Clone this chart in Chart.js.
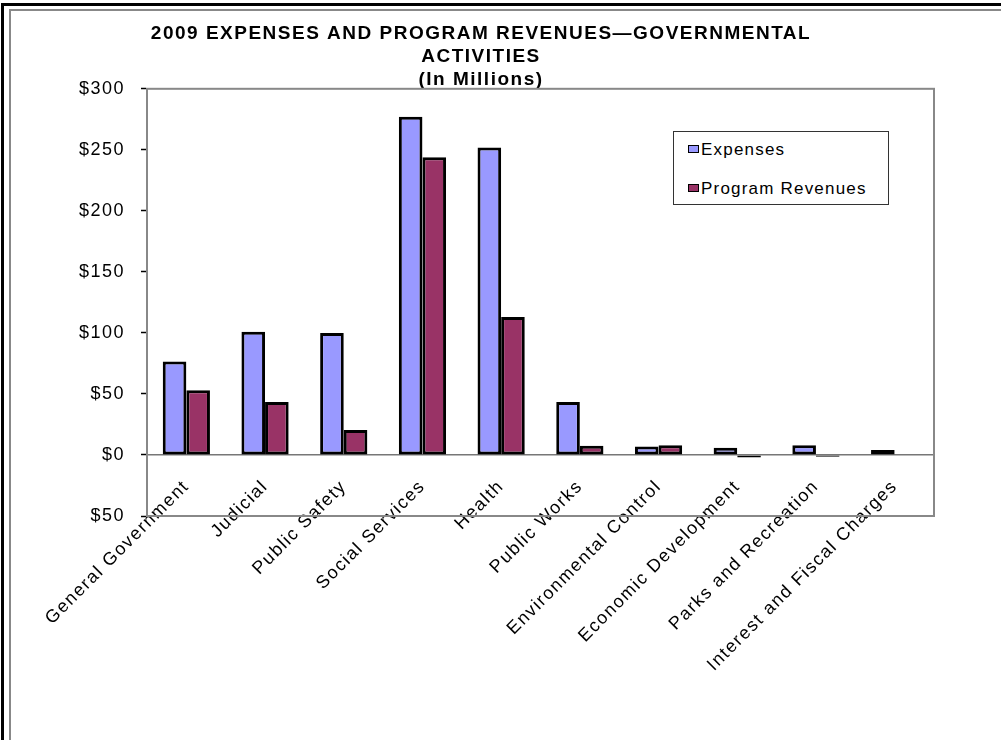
<!DOCTYPE html>
<html>
<head>
<meta charset="utf-8">
<script src="https://cdn.jsdelivr.net/npm/chart.js@4.4.0/dist/chart.umd.min.js"></script>
<style>
  html, body { margin: 0; background: #fff; overflow: hidden; }
  #outer { position: absolute; left: 1px; top: 3px; width: 1100px; height: 800px;
           border-left: 3px solid #000; border-top: 3px solid #000; }
  #inner { position: absolute; left: 9px; top: 9px; width: 1100px; height: 800px;
           border-left: 2px solid #888; border-top: 2px solid #888; }
  #wrap { position: absolute; left: 11px; top: 11px; width: 990px; height: 729px; }
  #legend { position: absolute; left: 673px; top: 131px; width: 214px; height: 72px;
            border: 1px solid #333; background: #fff;
            font: 17px "Liberation Sans", Arial, sans-serif; letter-spacing: 1.2px; color: #000; }
  .item { position: absolute; left: 14px; height: 20px; line-height: 20px; }
  .box { display: inline-block; width: 9px; height: 6px; border: 1.5px solid #000; margin-right: 2px; vertical-align: 2px; }
</style>
</head>
<body>
<div id="outer"></div>
<div id="inner"></div>
<div id="wrap"><canvas id="chart"></canvas></div>
<div id="legend"></div>
<script>
const titleLines = ['2009 EXPENSES AND PROGRAM REVENUES\u2014GOVERNMENTAL', 'ACTIVITIES', '(In Millions)'];
const categories = ['General Government', 'Judicial', 'Public Safety', 'Social Services', 'Health',
    'Public Works', 'Environmental Control', 'Economic Development', 'Parks and Recreation',
    'Interest and Fiscal Charges'];
const expenses = [76.5, 101, 100, 277, 252, 43.5, 7, 6, 8, 4];
const revenues = [53, 43.5, 20.5, 244, 113, 7.5, 8, -2, -1.5, 0];
const seriesNames = ['Expenses', 'Program Revenues'];
const seriesColors = ['#9999FF', '#993366'];
const yMin = -50, yMax = 300, yStep = 50;

Chart.defaults.font.family = '"Liberation Sans", Arial, sans-serif';
Chart.defaults.color = '#000';

// Excel-ish spaced text
const spacing = {
    id: 'spacing',
    beforeUpdate(chart) { chart.ctx.letterSpacing = '1.5px'; },
    beforeLayout(chart) { chart.ctx.letterSpacing = '1.5px'; },
    beforeDraw(chart) { chart.ctx.letterSpacing = '1.5px'; }
};

// gray frame round the plot area
const frame = {
    id: 'frame',
    beforeDatasetsDraw(chart) {
        const { ctx, chartArea: a } = chart;
        ctx.save();
        ctx.strokeStyle = '#888';
        ctx.lineWidth = 2;
        ctx.strokeRect(a.left, a.top, a.right - a.left, a.bottom - a.top);
        ctx.restore();
    }
};

const datasets = [expenses, revenues].map((d, i) => ({
    label: seriesNames[i],
    data: d,
    backgroundColor: seriesColors[i],
    borderColor: '#000',
    borderWidth: 3,
    borderSkipped: false,
    categoryPercentage: 0.6,
    barPercentage: 1.0
}));

new Chart(document.getElementById('chart'), {
    type: 'bar',
    data: { labels: categories, datasets: datasets },
    plugins: [spacing, frame],
    options: {
        responsive: true,
        maintainAspectRatio: false,
        animation: false,
        layout: { padding: { left: 17, right: 67, top: 0, bottom: 224 } },
        plugins: {
            legend: { display: false },
            tooltip: { enabled: false },
            title: {
                display: true,
                text: titleLines,
                color: '#000',
                font: { size: 19, weight: 'bold', lineHeight: 1.2 },
                padding: { top: 11.6, bottom: -2.2 }
            }
        },
        scales: {
            x: {
                position: { y: 0 },
                grid: { display: true, drawOnChartArea: false, drawTicks: false },
                border: { display: true, color: '#777', width: 1.5 },
                ticks: { maxRotation: 45, minRotation: 45, padding: 21, autoSkip: false,
                         font: { size: 18 }, color: '#000' }
            },
            y: {
                min: yMin,
                max: yMax,
                afterFit(scale) { scale.width = 119; },
                grid: { drawOnChartArea: false, drawTicks: true, tickLength: 6, tickColor: '#000', tickWidth: 1.5 },
                border: { display: true, color: '#111', width: 2 },
                ticks: { stepSize: yStep, padding: 16, font: { size: 18 }, color: '#000',
                         callback: v => '$' + Math.abs(v) }
            }
        }
    }
});

// legend box
const legend = document.getElementById('legend');
seriesNames.forEach((name, i) => {
    const item = document.createElement('div');
    item.className = 'item';
    item.style.top = (8 + i * 39) + 'px';
    item.innerHTML = '<span class="box" style="background:' + seriesColors[i] + '"></span>' + name;
    legend.appendChild(item);
});
</script>
</body>
</html>
